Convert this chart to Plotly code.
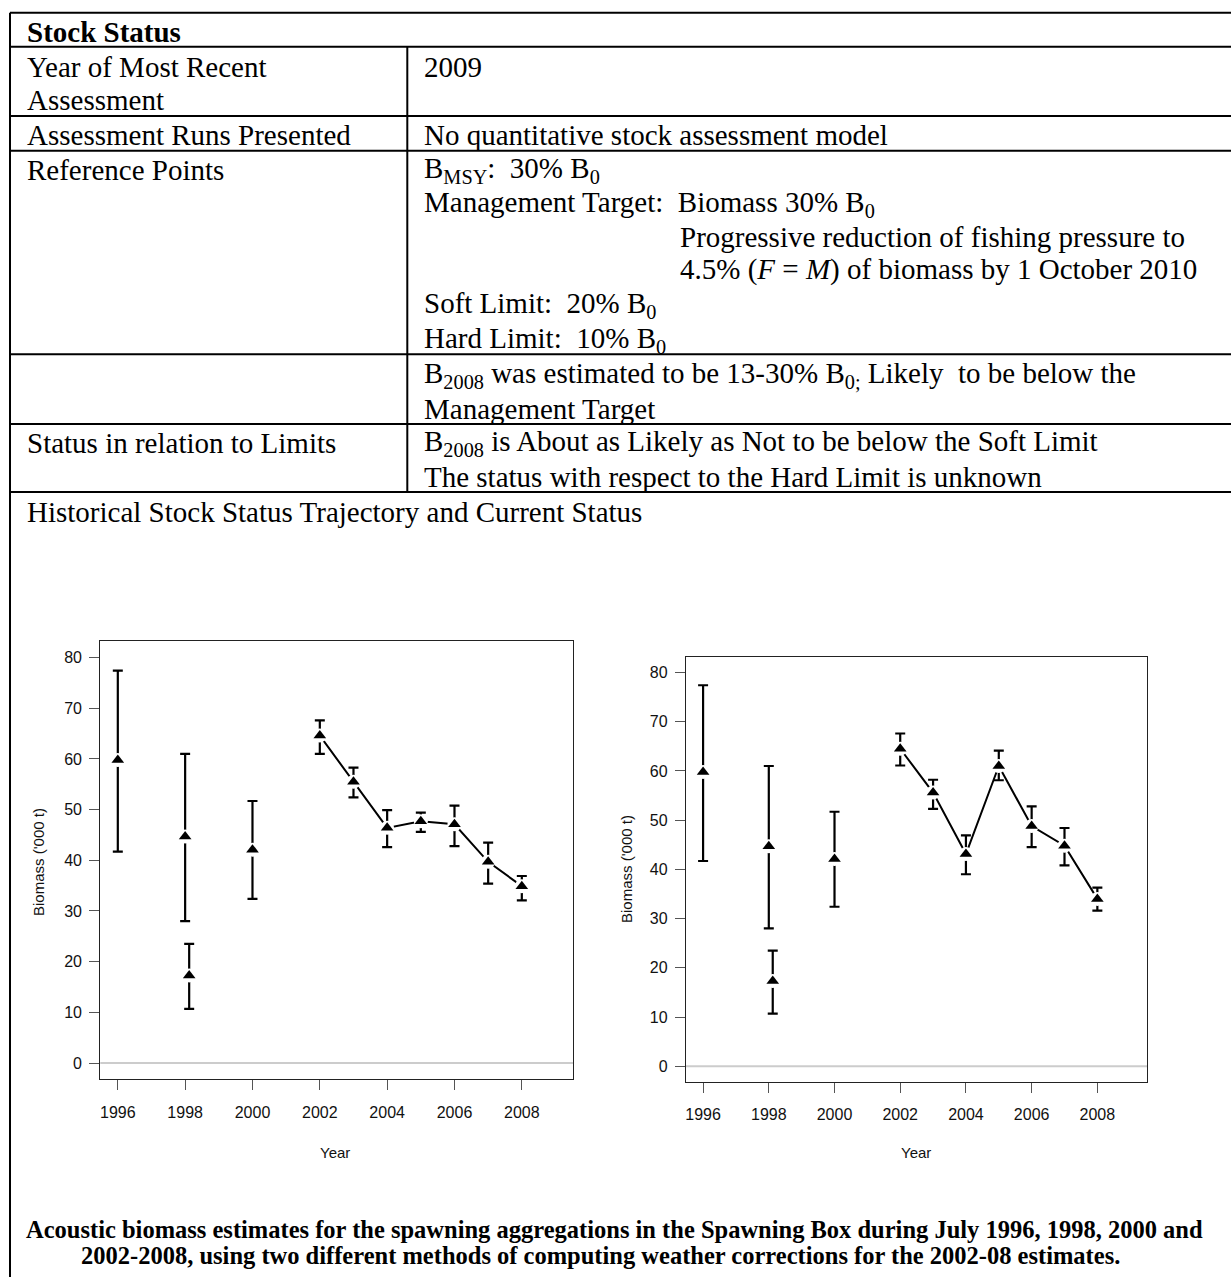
import plotly.graph_objects as go

# ---------------------------------------------------------------------------
# Acoustic biomass estimates ('000 t) with confidence limits
# ---------------------------------------------------------------------------
early_years = [1996, 1998, 1998, 2000]
early_est = [59.8, 44.7, 17.3, 42.1]
early_lo = [41.7, 28.0, 10.7, 32.4]
early_hi = [77.4, 61.0, 23.5, 51.7]

recent_years = [2002, 2003, 2004, 2005, 2006, 2007, 2008]

# weather correction, method 1
m1_est = [64.6, 55.5, 46.4, 47.7, 47.1, 39.7, 34.9]
m1_lo = [61.0, 52.4, 42.6, 45.6, 42.8, 35.4, 32.1]
m1_hi = [67.6, 58.3, 49.9, 49.4, 50.8, 43.5, 36.9]

# weather correction, method 2
m2_est = [64.5, 55.6, 43.1, 61.0, 48.8, 44.8, 34.0]
m2_lo = [61.1, 52.3, 39.0, 58.1, 44.5, 40.8, 31.6]
m2_hi = [67.6, 58.2, 46.9, 64.1, 52.8, 48.4, 36.3]

year_ticks = [1996, 1998, 2000, 2002, 2004, 2006, 2008]
biomass_ticks = [0, 10, 20, 30, 40, 50, 60, 70, 80]

# ---------------------------------------------------------------------------
W, H = 1231, 1277
SERIF = "Liberation Serif, Times New Roman, serif"
SANS = "Liberation Sans, Arial, Helvetica, sans-serif"


def px(x):
    return x / W


def py(y):
    return 1 - y / H


def dodge(years, step=0.12):
    """Shift repeated survey years slightly right so both estimates show."""
    seen = {}
    out = []
    for yr in years:
        k = seen.get(yr, 0)
        out.append(yr + k * step)
        seen[yr] = k + 1
    return out


fig = go.Figure()

panels = [
    ("x", "y", m1_est, m1_lo, m1_hi),
    ("x2", "y2", m2_est, m2_lo, m2_hi),
]

for xa, ya, est, lo, hi in panels:
    xs_early = dodge(early_years)
    all_x = xs_early + recent_years
    all_est = early_est + est
    all_lo = early_lo + lo
    all_hi = early_hi + hi
    # confidence intervals
    fig.add_trace(go.Scatter(
        x=all_x, y=all_est, mode="markers", xaxis=xa, yaxis=ya,
        marker=dict(size=1, color="rgba(0,0,0,0)"),
        error_y=dict(type="data", symmetric=False,
                     array=[h - e for h, e in zip(all_hi, all_est)],
                     arrayminus=[e - l for e, l in zip(all_est, all_lo)],
                     color="black", thickness=2.2, width=5),
        showlegend=False, hoverinfo="skip"))
    # trajectory for the annual surveys
    fig.add_trace(go.Scatter(
        x=recent_years, y=est, mode="lines", xaxis=xa, yaxis=ya,
        line=dict(color="black", width=2),
        showlegend=False, hoverinfo="skip"))
    # white halo leaves a gap round each point
    fig.add_trace(go.Scatter(
        x=all_x, y=all_est, mode="markers", xaxis=xa, yaxis=ya,
        marker=dict(symbol="circle", size=14, color="white"),
        showlegend=False, hoverinfo="skip"))
    fig.add_trace(go.Scatter(
        x=all_x, y=all_est, mode="markers", xaxis=xa, yaxis=ya,
        marker=dict(symbol="triangle-up", size=11, color="black"),
        showlegend=False))

axis_common = dict(
    showline=True, mirror=True, linecolor="#222", linewidth=1.3,
    ticks="outside", ticklen=10, tickwidth=1, tickcolor="#555",
    showgrid=False, zeroline=False,
    tickfont=dict(family=SANS, size=16, color="#111"),
)

fig.update_layout(
    width=W, height=H,
    margin=dict(l=0, r=0, t=0, b=0),
    paper_bgcolor="white", plot_bgcolor="white",
    showlegend=False,
    xaxis=dict(domain=[px(100.3), px(573)], range=[1995.48, 2009.52],
               tickvals=year_ticks, anchor="y", ticklabelstandoff=8,
               **axis_common),
    yaxis=dict(domain=[py(1079.3), py(641.3)], range=[-3.2, 83.2],
               tickvals=biomass_ticks, anchor="x", ticklabelstandoff=4,
               **axis_common),
    xaxis2=dict(domain=[px(686), px(1147.3)], range=[1995.48, 2009.52],
                tickvals=year_ticks, anchor="y2", ticklabelstandoff=8,
                **axis_common),
    yaxis2=dict(domain=[py(1082), py(656.7)], range=[-3.2, 83.2],
                tickvals=biomass_ticks, anchor="x2", ticklabelstandoff=4,
                **axis_common),
)

# zero reference line in each panel
for xr, yr in (("x domain", "y"), ("x2 domain", "y2")):
    fig.add_shape(type="line", xref=xr, yref=yr, x0=0, x1=1, y0=0, y1=0,
                  line=dict(color="#cccccc", width=2), layer="below")

# table rules
rule = dict(color="black", width=2)
for y in (12.7, 46.7, 116, 150.7, 354.3, 424, 492):
    fig.add_shape(type="line", xref="paper", yref="paper",
                  x0=px(10), x1=1.0, y0=py(y), y1=py(y), line=rule)
fig.add_shape(type="line", xref="paper", yref="paper",
              x0=px(10), x1=px(10), y0=py(12.7), y1=0, line=rule)
fig.add_shape(type="line", xref="paper", yref="paper",
              x0=px(407.3), x1=px(407.3), y0=py(46.7), y1=py(492), line=rule)

# table text
table_rows = [
    (25, 32, "<b>Stock Status</b>"),
    (25, 67, "Year of Most Recent"),
    (25, 100, "Assessment"),
    (25, 135, "Assessment Runs Presented"),
    (25, 170, "Reference Points"),
    (25, 443, "Status in relation to Limits"),
    (25, 512, "Historical Stock Status Trajectory and Current Status"),
    (422, 67, "2009"),
    (422, 135, "No quantitative stock assessment model"),
    (422, 170, "B<sub>MSY</sub>:  30% B<sub>0</sub>"),
    (422, 204, "Management Target:  Biomass 30% B<sub>0</sub>"),
    (678, 237, "Progressive reduction of fishing pressure to"),
    (678, 269, "4.5% (<i>F</i> = <i>M</i>) of biomass by 1 October 2010"),
    (422, 305, "Soft Limit:  20% B<sub>0</sub>"),
    (422, 340, "Hard Limit:  10% B<sub>0</sub>"),
    (422, 375, "B<sub>2008</sub> was estimated to be 13-30% B<sub>0;</sub> Likely  to be below the"),
    (422, 409, "Management Target"),
    (422, 443, "B<sub>2008</sub> is About as Likely as Not to be below the Soft Limit"),
    (422, 477, "The status with respect to the Hard Limit is unknown"),
]
for x, y, txt in table_rows:
    fig.add_annotation(x=px(x), y=py(y), xref="paper", yref="paper",
                       text=txt, showarrow=False, xanchor="left",
                       yanchor="middle",
                       font=dict(family=SERIF, size=29, color="black"))

# axis titles
for x, y in ((38, 862), (626, 869)):
    fig.add_annotation(x=px(x), y=py(y), xref="paper", yref="paper",
                       text="Biomass ('000 t)", textangle=-90,
                       showarrow=False, xanchor="center", yanchor="middle",
                       font=dict(family=SANS, size=15, color="#111"))
for x in (335, 916):
    fig.add_annotation(x=px(x), y=py(1152.7), xref="paper", yref="paper",
                       text="Year", showarrow=False, xanchor="center",
                       yanchor="middle",
                       font=dict(family=SANS, size=15, color="#111"))

# caption
caption = [
    (614, 1229, "Acoustic biomass estimates for the spawning aggregations in the Spawning Box during July 1996, 1998, 2000 and"),
    (600, 1255, "2002-2008, using two different methods of computing weather corrections for the 2002-08 estimates."),
]
for x, y, txt in caption:
    fig.add_annotation(x=px(x), y=py(y), xref="paper", yref="paper",
                       text="<b>" + txt + "</b>", showarrow=False,
                       xanchor="center", yanchor="middle",
                       font=dict(family=SERIF, size=24.5, color="black"))

fig.write_html("out.html", config={"displayModeBar": False})
